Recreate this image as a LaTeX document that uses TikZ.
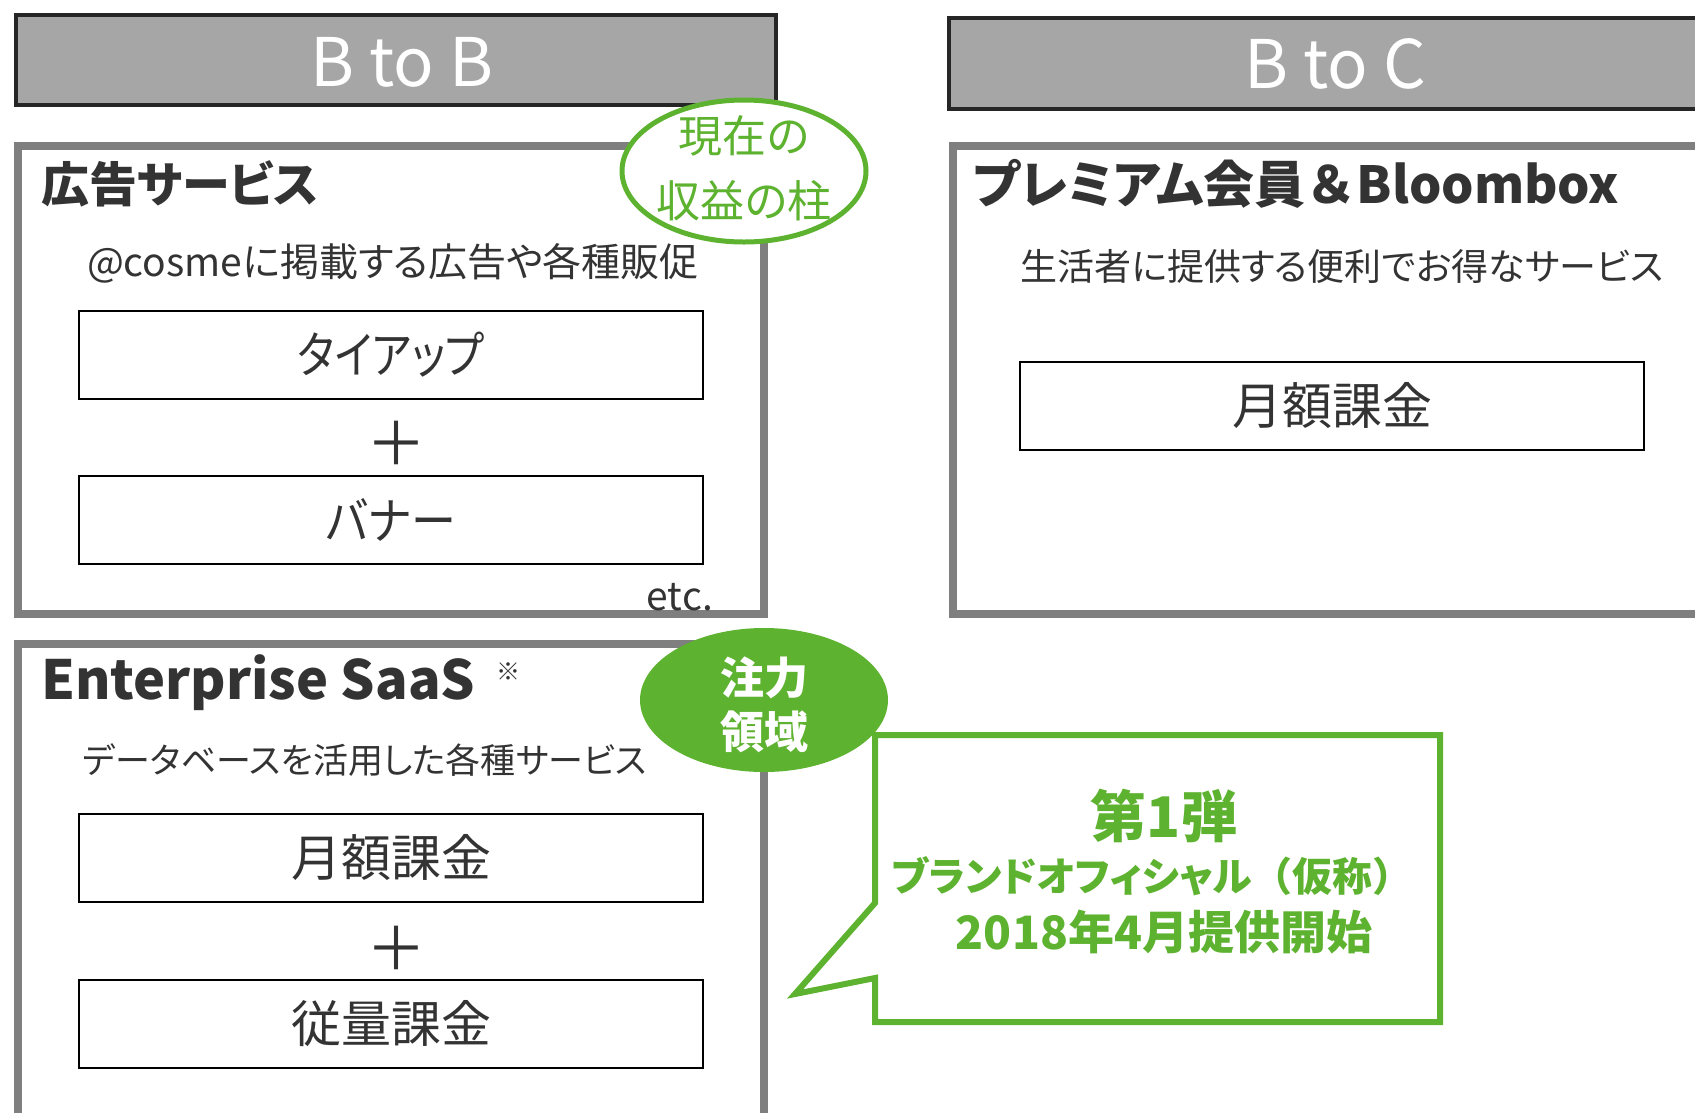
\documentclass[tikz,border=0pt]{standalone}
\usepackage{fontspec}
\setmainfont[RawFeature=+palt]{Noto Sans CJK JP}
\usepackage{tikz}
\usetikzlibrary{positioning}
\usetikzlibrary{shapes.geometric}
\definecolor{hdrgray}{HTML}{A6A6A6}
\definecolor{hdrline}{HTML}{262626}
\definecolor{panelgray}{HTML}{7F7F7F}
\definecolor{txtgray}{HTML}{333333}
\definecolor{cosgreen}{HTML}{5DB22F}
\newcommand{\fsz}[1]{\fontsize{#1}{#1}\selectfont}
\newcommand{\fullw}[1]{{\addfontfeature{RawFeature=-palt}#1}}

\begin{document}
\begin{tikzpicture}[x=1pt,y=-1pt,
    header/.style={draw=hdrline,fill=hdrgray,line width=4pt},
    hdrtext/.style={text=white,font=\fsz{67}},
    panel/.style={draw=panelgray,line width=8pt},
    title/.style={anchor=west,inner sep=0pt,text=txtgray,font=\bfseries\fsz{48}},
    lead/.style={inner sep=0pt,text=txtgray,font=\fsz{39}},
    pricebox/.style={draw=black,line width=2.5pt,minimum width=624pt,minimum height=88pt,text=txtgray,font=\fsz{50}},
    plussign/.style={inner sep=0pt,text=txtgray,font=\fsz{60}},
    greentext/.style={inner sep=0pt,text=cosgreen,font=\bfseries\fsz{40}}]
  \useasboundingbox (0,0) rectangle (1695,1112);
  \clip (0,0) rectangle (1695,1112);

  % column headers
  \draw[header] (16,15) rectangle (776,105);
  \node[hdrtext] (btob) at (402,62) {B to B};
  \draw[header] (949,18) rectangle (1717,109);
  \node[hdrtext] (btoc) at (1335,64) {B to C};

  % panels
  \draw[panel] (18,146) rectangle (764,614);
  \draw[panel] (953,146) rectangle (1720,614);
  \draw[panel] (18,644) rectangle (764,1130);

  % ad services
  \node[title] (ad) at (41,184) {広告サービス};
  \node[lead] (adlead) at (393,263) {@cosmeに掲載する広告や各種販促};
  \node[pricebox] (tieup) at (391,355) {\scalebox{0.85}[1]{タイアップ}};
  \node[plussign] (plusA) at (396,443) {＋};
  \node[pricebox] (banner) at (391,520) {\scalebox{0.9}[1]{バナー}};
  \node[lead,anchor=east] (etc) at (713,597) {etc.};

  % premium members
  \node[title,font=\bfseries\fsz{51}] (premium) at (973,184) {プレミアム会員\fullw{＆}Bloombox};
  \node[lead,font=\fsz{37}] (premlead) at (1342,266) {生活者に提供する便利でお得なサービス};
  \node[pricebox] (premfee) at (1332,406) {月額課金};

  % enterprise saas
  \node[title,font=\bfseries\fsz{54}] (saas) at (41,683) {Enterprise SaaS};
  \node[inner sep=0pt,text=txtgray,font=\fsz{24}] (note) at (508,672) {※};
  \node[lead,font=\fsz{35}] (saaslead) at (365,760) {データベースを活用した各種サービス};
  \node[pricebox] (monthly) at (391,858) {月額課金};
  \node[plussign] (plusB) at (396,948) {＋};
  \node[pricebox] (usage) at (391,1024) {従量課金};

  % badges
  \node[ellipse,draw=cosgreen,fill=white,line width=5pt,minimum width=244pt,minimum height=142pt] (pillar) at (744,171) {};
  \node[inner sep=0pt,text=cosgreen,font=\fsz{44}] (pillarA) at (744,136) {現在の};
  \node[inner sep=0pt,text=cosgreen,font=\fsz{44}] (pillarB) at (744,201) {収益の柱};

  \draw[draw=cosgreen,fill=white,line width=6pt,line join=miter]
    (875,735) -- (1440,735) -- (1440,1022) -- (875,1022) -- (875,978) -- (795,994) -- (875,903) -- cycle;
  \node[greentext,font=\bfseries\fsz{56}] (first) at (1164,816) {第1弾};
  \node[greentext] (brand) at (1152,876) {ブランドオフィシャル\fullw{（}仮称\fullw{）}};
  \node[greentext,font=\bfseries\fsz{46}] (launch) at (1164,932) {2018年4月提供開始};

  \node[ellipse,fill=cosgreen,minimum width=248pt,minimum height=144pt] (focus) at (764,700) {};
  \node[inner sep=0pt,text=white,font=\bfseries\fsz{44}] (focusA) at (764,678) {注力};
  \node[inner sep=0pt,text=white,font=\bfseries\fsz{44}] (focusB) at (764,732) {領域};
\end{tikzpicture}
\end{document}
